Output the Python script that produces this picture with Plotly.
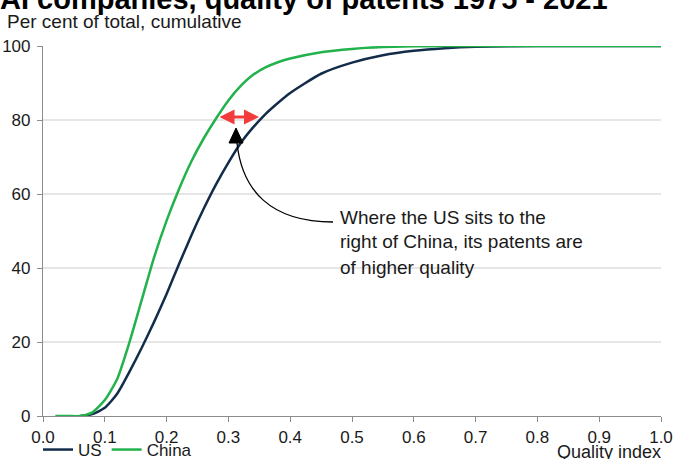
import plotly.graph_objects as go

quality = [0.02, 0.04, 0.06, 0.08, 0.10, 0.12, 0.14, 0.16, 0.18, 0.20, 0.22, 0.24, 0.26,
           0.28, 0.30, 0.32, 0.34, 0.36, 0.38, 0.40, 0.45, 0.50, 0.55, 0.60, 0.65, 0.70,
           0.80, 0.90, 1.00]
china = [0, 0, 0, 1.0, 4.3, 10, 20, 31.5, 43, 52.8, 61.3, 68.8, 75,
         80.4, 85.3, 89.2, 92.2, 94.2, 95.6, 96.6, 98.3, 99.2, 99.7, 99.9, 100, 100,
         100, 100, 100]
us_quality = [0.06, 0.08, 0.10, 0.12, 0.14, 0.16, 0.18, 0.20, 0.22, 0.24, 0.26, 0.28,
              0.30, 0.32, 0.34, 0.36, 0.38, 0.40, 0.45, 0.50, 0.55, 0.60, 0.65, 0.70,
              0.80, 0.90, 1.00]
us = [0, 0.5, 2.2, 6, 12, 18.5, 25.5, 33, 41, 48.8, 56, 62.6,
      68.5, 73.8, 78, 81.6, 84.6, 87.3, 92.5, 95.5, 97.5, 98.7, 99.4, 99.8,
      100, 100, 100]
x_ticks = [0.0, 0.1, 0.2, 0.3, 0.4, 0.5, 0.6, 0.7, 0.8, 0.9, 1.0]
y_ticks = [0, 20, 40, 60, 80, 100]

NAVY = "#122c4a"
GREEN = "#22b24c"
FONT = "Arial, Liberation Sans, sans-serif"

W, H = 673, 459
ML, MR, MT, MB = 43, 12, 46, 43
PW, PH = W - ML - MR, H - MT - MB


def px_to_data(px, py):
    return (px - ML) / PW, (H - MB - py) / PH * 100


def px_to_paper(px, py):
    return (px - ML) / PW, (H - MB - py) / PH


fig = go.Figure()
fig.add_trace(go.Scatter(x=us_quality, y=us, mode="lines", name="US",
                         line=dict(color=NAVY, width=2.5, shape="spline", smoothing=0.6)))
fig.add_trace(go.Scatter(x=quality, y=china, mode="lines", name="China",
                         line=dict(color=GREEN, width=2.5, shape="spline", smoothing=0.6)))

# curved connector from note to arrowhead
p0 = px_to_data(237, 143)
p1 = px_to_data(242, 190)
p2 = px_to_data(270, 222)
p3 = px_to_data(333, 222)
fig.add_shape(type="path", xref="x", yref="y",
              path=f"M {p0[0]},{p0[1]} C {p1[0]},{p1[1]} {p2[0]},{p2[1]} {p3[0]},{p3[1]}",
              line=dict(color="black", width=1.3))
t = px_to_data(236, 128)
bl = px_to_data(229, 143)
br = px_to_data(243, 143)
fig.add_shape(type="path", xref="x", yref="y",
              path=f"M {t[0]},{t[1]} L {bl[0]},{bl[1]} L {br[0]},{br[1]} Z",
              fillcolor="black", line=dict(color="black", width=1))

# red double arrow
a1 = px_to_data(218, 117)
a2 = px_to_data(259, 117)
fig.add_annotation(x=a2[0], y=a2[1], ax=a1[0], ay=a1[1], xref="x", yref="y",
                   axref="x", ayref="y", text="", showarrow=True,
                   arrowhead=2, arrowsize=1, arrowwidth=3, arrowcolor="#f23b3b",
                   arrowside="end+start", startarrowhead=2, startarrowsize=1)

note_lines = ["Where the US sits to the", "right of China, its patents are",
              "of higher quality"]
for i, line in enumerate(note_lines):
    xp, yp = px_to_paper(338, 217 + 25 * i)
    fig.add_annotation(x=xp, y=yp, xref="paper", yref="paper", text=line,
                       showarrow=False, xanchor="left", yanchor="middle",
                       font=dict(family=FONT, size=19, color="#1a1a1a"))

# title (cut off at top as in reference) and subtitle
xp, yp = px_to_paper(-2, -1)
fig.add_annotation(x=xp, y=yp, xref="paper", yref="paper",
                   text="<b>AI companies, quality of patents 1975 - 2021</b>",
                   showarrow=False, xanchor="left", yanchor="middle",
                   font=dict(family=FONT, size=29, color="black"))
xp, yp = px_to_paper(5, 21)
fig.add_annotation(x=xp, y=yp, xref="paper", yref="paper",
                   text="Per cent of total, cumulative",
                   showarrow=False, xanchor="left", yanchor="middle",
                   font=dict(family=FONT, size=19, color="#1a1a1a"))
xp, yp = px_to_paper(663, 452)
fig.add_annotation(x=xp, y=yp, xref="paper", yref="paper",
                   text="Quality index",
                   showarrow=False, xanchor="right", yanchor="middle",
                   font=dict(family=FONT, size=18, color="#1a1a1a"))

fig.update_layout(
    width=W, height=H,
    margin=dict(l=ML, r=MR, t=MT, b=MB, autoexpand=False),
    paper_bgcolor="white", plot_bgcolor="white",
    font=dict(family=FONT, size=17, color="#1a1a1a"),
    showlegend=True,
    legend=dict(orientation="h", x=px_to_paper(38, 0)[0], xanchor="left",
                y=px_to_paper(0, 450)[1], yanchor="middle",
                font=dict(family=FONT, size=17, color="#1a1a1a"),
                itemwidth=30, tracegroupgap=0, bgcolor="rgba(0,0,0,0)"),
    xaxis=dict(range=[0, 1], tickvals=x_ticks,
               ticktext=[f"{v:.1f}" for v in x_ticks],
               showgrid=False, zeroline=False, showline=True,
               linecolor="#8c8c8c", linewidth=1.2, ticks="outside",
               ticklen=5, tickcolor="#8c8c8c", tickfont=dict(size=17)),
    yaxis=dict(range=[0, 100], tickvals=y_ticks, showgrid=True,
               gridcolor="#e6e6e6", gridwidth=1.5, zeroline=False,
               showline=True, linecolor="#8c8c8c", linewidth=1.2,
               ticks="outside", ticklen=5, tickcolor="#8c8c8c",
               ticklabelstandoff=3, tickfont=dict(size=17)),
)

fig.write_html("out.html")
